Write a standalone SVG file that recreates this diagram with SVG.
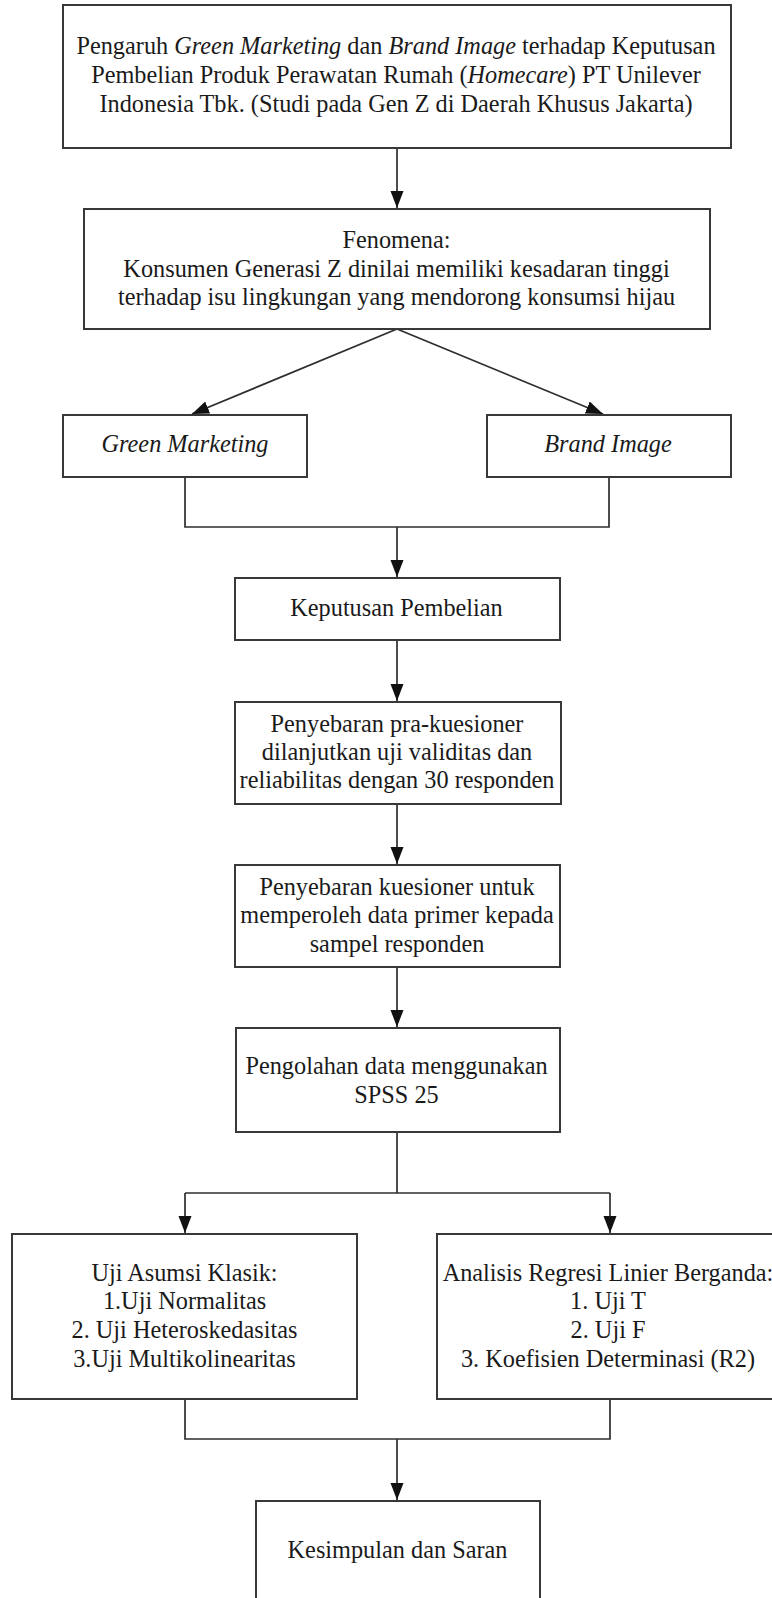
<svg xmlns="http://www.w3.org/2000/svg" width="772" height="1598" viewBox="0 0 772 1598">
<style>
  .box { fill: #ffffff; stroke: #383838; stroke-width: 2; }
  .t { font-family: "Liberation Serif", "Times New Roman", serif; font-size: 25.5px; fill: #1a1a1a; text-anchor: middle; }
  .i { font-style: italic; }
  .c { fill: none; stroke: #2e2e2e; stroke-width: 1.7; }
</style>
<defs>
  <marker id="ah" markerUnits="userSpaceOnUse" markerWidth="17" markerHeight="16" viewBox="0 0 17 16" refX="17" refY="8" orient="auto">
    <path d="M0,1.5 L17,8 L0,14.5 Z" fill="#111"/>
  </marker>
</defs>
<rect width="772" height="1598" fill="#ffffff"/>

<g id="connectors">
  <line class="c" x1="397" y1="148" x2="397" y2="208" marker-end="url(#ah)"/>
  <line class="c" x1="397" y1="329" x2="192" y2="414" marker-end="url(#ah)"/>
  <line class="c" x1="397" y1="329" x2="603" y2="414" marker-end="url(#ah)"/>
  <polyline class="c" points="185,477 185,527 609,527 609,477"/>
  <line class="c" x1="397" y1="527" x2="397" y2="577" marker-end="url(#ah)"/>
  <line class="c" x1="397" y1="640" x2="397" y2="701" marker-end="url(#ah)"/>
  <line class="c" x1="397" y1="804" x2="397" y2="864" marker-end="url(#ah)"/>
  <line class="c" x1="397" y1="967" x2="397" y2="1027" marker-end="url(#ah)"/>
  <line class="c" x1="397" y1="1132" x2="397" y2="1193"/>
  <line class="c" x1="185" y1="1193" x2="610" y2="1193"/>
  <line class="c" x1="185" y1="1193" x2="185" y2="1233" marker-end="url(#ah)"/>
  <line class="c" x1="610" y1="1193" x2="610" y2="1233" marker-end="url(#ah)"/>
  <polyline class="c" points="185,1399 185,1439 610,1439 610,1399"/>
  <line class="c" x1="397" y1="1439" x2="397" y2="1500" marker-end="url(#ah)"/>
</g>

<g id="n-judul">
  <rect class="box" x="63" y="5" width="668" height="143"/>
  <g transform="translate(396 0) scale(0.953 1)">
    <text class="t" x="0" y="54">Pengaruh <tspan class="i">Green Marketing</tspan> dan <tspan class="i">Brand Image</tspan> terhadap Keputusan</text>
    <text class="t" x="0" y="83">Pembelian Produk Perawatan Rumah (<tspan class="i">Homecare</tspan>) PT Unilever</text>
    <text class="t" x="0" y="112">Indonesia Tbk. (Studi pada Gen Z di Daerah Khusus Jakarta)</text>
  </g>
</g>

<g id="n-fenomena">
  <rect class="box" x="84" y="209" width="626" height="120"/>
  <g transform="translate(396.5 0) scale(0.953 1)">
    <text class="t" x="0" y="248">Fenomena:</text>
    <text class="t" x="0" y="277">Konsumen Generasi Z dinilai memiliki kesadaran tinggi</text>
    <text class="t" x="0" y="305">terhadap isu lingkungan yang mendorong konsumsi hijau</text>
  </g>
</g>

<g id="n-green">
  <rect class="box" x="63" y="415" width="244" height="62"/>
  <g transform="translate(185 0) scale(0.953 1)">
    <text class="t i" x="0" y="452">Green Marketing</text>
  </g>
</g>

<g id="n-brand">
  <rect class="box" x="487" y="415" width="244" height="62"/>
  <g transform="translate(608 0) scale(0.953 1)">
    <text class="t i" x="0" y="452">Brand Image</text>
  </g>
</g>

<g id="n-keputusan">
  <rect class="box" x="235" y="578" width="325" height="62"/>
  <g transform="translate(396.5 0) scale(0.953 1)">
    <text class="t" x="0" y="616">Keputusan Pembelian</text>
  </g>
</g>

<g id="n-prakuesioner">
  <rect class="box" x="235" y="702" width="326" height="102"/>
  <g transform="translate(397 0) scale(0.953 1)">
    <text class="t" x="0" y="732">Penyebaran pra-kuesioner</text>
    <text class="t" x="0" y="760">dilanjutkan uji validitas dan</text>
    <text class="t" x="0" y="788">reliabilitas dengan 30 responden</text>
  </g>
</g>

<g id="n-kuesioner">
  <rect class="box" x="235" y="865" width="325" height="102"/>
  <g transform="translate(397 0) scale(0.953 1)">
    <text class="t" x="0" y="895">Penyebaran kuesioner untuk</text>
    <text class="t" x="0" y="923">memperoleh data primer kepada</text>
    <text class="t" x="0" y="952">sampel responden</text>
  </g>
</g>

<g id="n-pengolahan">
  <rect class="box" x="236" y="1028" width="324" height="104"/>
  <g transform="translate(396.5 0) scale(0.953 1)">
    <text class="t" x="0" y="1074">Pengolahan data menggunakan</text>
    <text class="t" x="0" y="1103">SPSS 25</text>
  </g>
</g>

<g id="n-asumsi">
  <rect class="box" x="12" y="1234" width="345" height="165"/>
  <g transform="translate(184.5 0) scale(0.953 1)">
    <text class="t" x="0" y="1281">Uji Asumsi Klasik:</text>
    <text class="t" x="0" y="1309">1.Uji Normalitas</text>
    <text class="t" x="0" y="1338">2. Uji Heteroskedasitas</text>
    <text class="t" x="0" y="1367">3.Uji Multikolinearitas</text>
  </g>
</g>

<g id="n-regresi">
  <rect class="box" x="437" y="1234" width="346" height="165"/>
  <g transform="translate(608 0) scale(0.953 1)">
    <text class="t" x="0" y="1281">Analisis Regresi Linier Berganda:</text>
    <text class="t" x="0" y="1309">1. Uji T</text>
    <text class="t" x="0" y="1338">2. Uji F</text>
    <text class="t" x="0" y="1367">3. Koefisien Determinasi (R2)</text>
  </g>
</g>

<g id="n-kesimpulan">
  <rect class="box" x="256" y="1501" width="284" height="110"/>
  <g transform="translate(397.5 0) scale(0.953 1)">
    <text class="t" x="0" y="1558">Kesimpulan dan Saran</text>
  </g>
</g>
</svg>
